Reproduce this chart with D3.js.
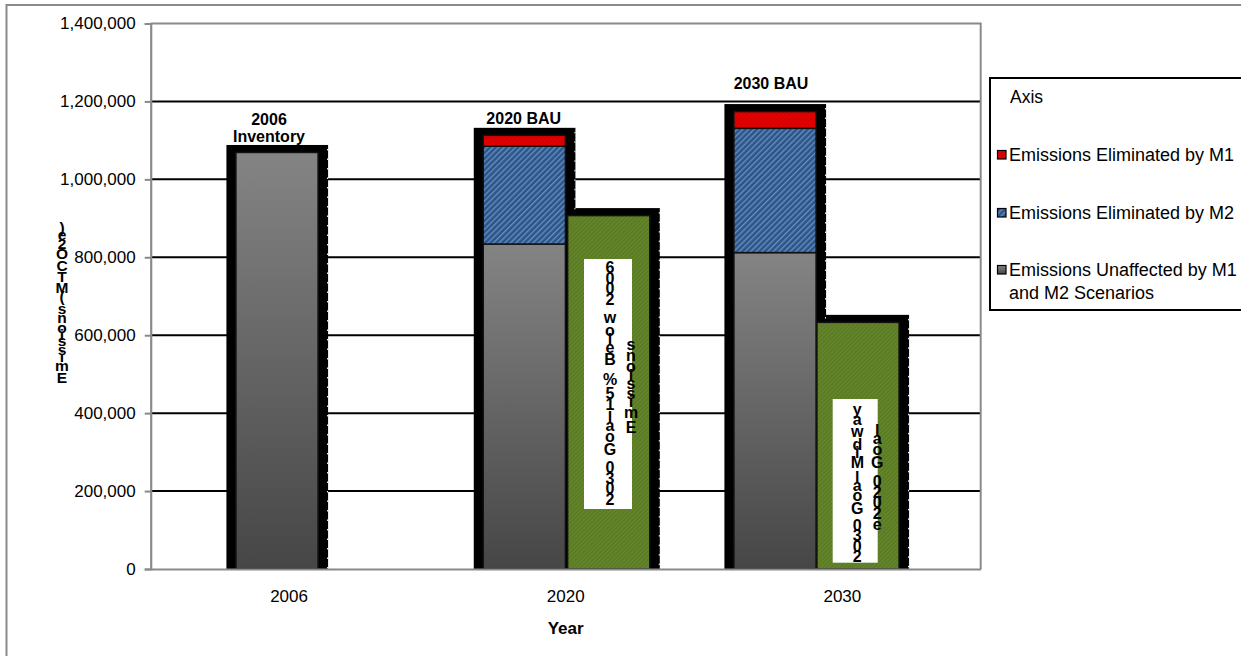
<!DOCTYPE html>
<html><head><meta charset="utf-8">
<script src="https://cdn.jsdelivr.net/npm/d3@7"></script>
<style>
body{margin:0;background:#fff;}
svg{display:block;font-family:"Liberation Sans",Arial,Helvetica,sans-serif;}
</style>
</head><body>
<svg id="chart" width="1241" height="656"></svg>
<script>
// ---------------- data ----------------
const categories   = ["2006", "2020", "2030"];
const barLabels    = [["2006", "Inventory"], ["2020 BAU"], ["2030 BAU"]];
const unaffected   = [1069000, 834000, 812000];   // Emissions Unaffected by M1 and M2 Scenarios
const elimM2       = [0, 251000, 319000];         // Emissions Eliminated by M2
const elimM1       = [0, 28000, 43000];           // Emissions Eliminated by M1
const goalValues   = [null, 907000, 633000];      // goal bars (green)
const goalNotes    = [null, ["2030 Goal 15% Below 2006", "Emissions"], ["2030 Goal Midway", "e2020 Goal"]];
const yTicks       = [0, 200000, 400000, 600000, 800000, 1000000, 1200000, 1400000];
const legendTitle  = "Axis";
const legendNames  = ["Emissions Eliminated by M1", "Emissions Eliminated by M2", "Emissions Unaffected by M1 and M2 Scenarios"];
const yTitle       = "Emissions (MTCO2e)";
const xTitle       = "Year";

// ---------------- layout ----------------
const svg = d3.select("#chart");
const P = {left: 150.7, right: 980.7, top: 23.5, bottom: 569};
const AXIS = "#8a8a8a";

const x = d3.scaleBand().domain(categories).range([P.left, P.right]).padding(0);
const y = d3.scaleLinear().domain([0, 1400000]).range([P.bottom, P.top]);
const BW = 0.297;                       // bar width as fraction of band
const stackSlot = [0.308, 0.202, 0.108]; // left edge of stacked bar (fraction of band)
const goalSlot  = [null, 0.507, 0.408];
const FR = {l: 9.5, r: 10, t: 7.5};     // black frame around bars

// defs
const defs = svg.append("defs");
const grad = defs.append("linearGradient").attr("id", "gGray").attr("x1", 0).attr("y1", 0).attr("x2", 0).attr("y2", 1);
grad.append("stop").attr("offset", "0%").attr("stop-color", "#848484");
grad.append("stop").attr("offset", "100%").attr("stop-color", "#464646");

const pb = defs.append("pattern").attr("id", "pBlue").attr("width", 4).attr("height", 4)
  .attr("patternUnits", "userSpaceOnUse").attr("patternTransform", "rotate(45)");
pb.append("rect").attr("width", 4).attr("height", 4).attr("fill", "#2c5689");
pb.append("rect").attr("width", 1.3).attr("height", 4).attr("fill", "#6a8fc0");

const pg = defs.append("pattern").attr("id", "pGreen").attr("width", 3).attr("height", 3)
  .attr("patternUnits", "userSpaceOnUse").attr("patternTransform", "rotate(45)");
pg.append("rect").attr("width", 3).attr("height", 3).attr("fill", "#5b7b24");
pg.append("rect").attr("width", 1).attr("height", 3).attr("fill", "#67882d");

const pr = defs.append("pattern").attr("id", "pRed").attr("width", 3).attr("height", 3)
  .attr("patternUnits", "userSpaceOnUse").attr("patternTransform", "rotate(45)");
pr.append("rect").attr("width", 3).attr("height", 3).attr("fill", "#e20000");
pr.append("rect").attr("width", 0.8).attr("height", 3).attr("fill", "#c80000");

// outer chart border
svg.append("rect").attr("x", 6.5).attr("y", 5).attr("width", 1300).attr("height", 700)
  .attr("fill", "none").attr("stroke", AXIS).attr("stroke-width", 2);

// gridlines
svg.append("g").selectAll("line").data(yTicks.filter(t => t > 0 && t < 1400000)).join("line")
  .attr("x1", P.left).attr("x2", P.right).attr("y1", d => y(d)).attr("y2", d => y(d))
  .attr("stroke", "#000").attr("stroke-width", 2);

// plot-area top / right border
svg.append("path").attr("d", `M${P.left},${y(1400000)}H${P.right}V${P.bottom}`)
  .attr("fill", "none").attr("stroke", AXIS).attr("stroke-width", 2);

// build bar objects
const bars = [];
categories.forEach((c, i) => {
  const x0 = x(c) + stackSlot[i] * x.bandwidth();
  const w = BW * x.bandwidth();
  const segs = [];
  let base = 0;
  [[unaffected[i], "url(#gGray)"], [elimM2[i], "url(#pBlue)"], [elimM1[i], "url(#pRed)"]].forEach(([v, f]) => {
    if (v > 0) { segs.push({y0: base, y1: base + v, fill: f}); base += v; }
  });
  bars.push({x0, w, total: base, segs});
  if (goalValues[i] != null) {
    const gx = x(c) + goalSlot[i] * x.bandwidth();
    bars.push({x0: gx, w, total: goalValues[i], segs: [{y0: 0, y1: goalValues[i], fill: "url(#pGreen)"}], note: goalNotes[i]});
  }
});

// frames first
svg.append("g").selectAll("rect").data(bars).join("rect")
  .attr("x", d => d.x0 - FR.l).attr("y", d => y(d.total) - FR.t)
  .attr("width", d => d.w + FR.l + FR.r).attr("height", d => y(0) - y(d.total) + FR.t)
  .attr("fill", "#000");
// dotted white edge on frame right side
svg.append("g").selectAll("line").data(bars).join("line")
  .attr("x1", d => d.x0 + d.w + FR.r - 0.5).attr("x2", d => d.x0 + d.w + FR.r - 0.5)
  .attr("y1", d => y(d.total) - FR.t + 4).attr("y2", y(0))
  .attr("stroke", "#fff").attr("stroke-width", 1).attr("stroke-dasharray", "1.5,8");

// fills
const fillG = svg.append("g");
bars.forEach(b => {
  fillG.selectAll(null).data(b.segs).join("rect")
    .attr("x", b.x0).attr("width", b.w)
    .attr("y", d => y(d.y1)).attr("height", d => y(d.y0) - y(d.y1))
    .attr("fill", d => d.fill).attr("stroke", "#111").attr("stroke-width", 1.5);
});

// stacked-glyph vertical text (glyphs upright, advancing bottom-to-top)
const cnv = document.createElement("canvas").getContext("2d");
function stackedText(g, str, cx, topY, bottomY, fs) {
  cnv.font = `bold ${fs}px "Liberation Sans", Arial, sans-serif`;
  const chars = Array.from(str);
  const adv = chars.map(ch => cnv.measureText(ch).width);
  let cum = 0; const centers = [];
  adv.forEach(a => { centers.push(cum + a / 2); cum += a; });
  const h = fs * 0.72;
  const first = centers[0], last = centers[centers.length - 1];
  const yb = bottomY - h / 2, yt = topY + h / 2;
  const k = (yb - yt) / (last - first);
  const t = g.append("text").attr("font-weight", "bold").attr("font-size", fs)
    .attr("text-anchor", "middle").attr("fill", "#000").attr("xml:space", "preserve");
  chars.forEach((ch, i) => {
    t.append("tspan").attr("x", cx).attr("y", yb - (centers[i] - first) * k).attr("dy", "0.36em").text(ch);
  });
}

// goal note boxes
const noteG = svg.append("g");
const noteLayout = [
  null,
  {box: [584, 259, 48, 250], cols: [[610, 261.7, 505], [631, 338, 433]]},
  {box: [832.7, 399, 45, 163.7], cols: [[857.3, 403, 561.7], [877.3, 424, 530]]}
];
goalNotes.forEach((n, i) => {
  if (!n) return;
  const L = noteLayout[i];
  noteG.append("rect").attr("x", L.box[0]).attr("y", L.box[1]).attr("width", L.box[2]).attr("height", L.box[3]).attr("fill", "#fff");
  n.forEach((s, j) => stackedText(noteG, s, L.cols[j][0], L.cols[j][1], L.cols[j][2], 16));
});

// bar labels
const labelPos = [[269, [125.3, 142.3]], [523.7, [124]], [771, [89.3]]];
barLabels.forEach((lines, i) => {
  lines.forEach((s, j) => {
    svg.append("text").attr("x", labelPos[i][0]).attr("y", labelPos[i][1][j])
      .attr("text-anchor", "middle").attr("font-weight", "bold").attr("font-size", 16).text(s);
  });
});

// y axis
const yAxis = svg.append("g").attr("transform", `translate(${P.left},0)`)
  .call(d3.axisLeft(y).tickValues(yTicks).tickSize(6).tickPadding(9).tickFormat(d3.format(",")));
yAxis.select(".domain").attr("stroke", AXIS).attr("stroke-width", 2.2);
yAxis.selectAll(".tick line").attr("stroke", AXIS).attr("stroke-width", 2);
yAxis.selectAll(".tick text").attr("font-size", 17).attr("fill", "#000")
  .attr("font-family", '"Liberation Sans", Arial, sans-serif');

// x axis
const xAxis = svg.append("g").attr("transform", `translate(0,${P.bottom})`)
  .call(d3.axisBottom(x).tickSize(0).tickPadding(21));
xAxis.select(".domain").attr("stroke", AXIS).attr("stroke-width", 2.2);
xAxis.selectAll(".tick text").attr("font-size", 17).attr("fill", "#000")
  .attr("font-family", '"Liberation Sans", Arial, sans-serif');

// axis titles
svg.append("text").attr("x", (P.left + P.right) / 2).attr("y", 634).attr("text-anchor", "middle")
  .attr("font-weight", "bold").attr("font-size", 17).text(xTitle);
stackedText(svg, yTitle, 62, 222, 383, 15.5);

// legend
const lg = svg.append("g");
lg.append("rect").attr("x", 990).attr("y", 78).attr("width", 270).attr("height", 232)
  .attr("fill", "#fff").attr("stroke", "#000").attr("stroke-width", 2);
lg.append("text").attr("x", 1010).attr("y", 97).attr("dy", "0.35em").attr("font-size", 17.5).text(legendTitle);
const legFills = ["url(#pRed)", "url(#pBlue)", "url(#gGray)"];
const legY = [155, 213, 270];
legendNames.forEach((nm, i) => {
  lg.append("rect").attr("x", 997.5).attr("y", legY[i] - 4.5).attr("width", 8.5).attr("height", 8.5)
    .attr("fill", legFills[i]).attr("stroke", "#000").attr("stroke-width", 1.2);
  const t = lg.append("text").attr("x", 1009).attr("y", legY[i]).attr("dy", "0.35em").attr("font-size", 18);
  if (i === 2) {
    t.append("tspan").attr("x", 1009).text("Emissions Unaffected by M1");
    t.append("tspan").attr("x", 1009).attr("dy", 23).text("and M2 Scenarios");
  } else t.text(nm);
});
</script>
</body></html>
